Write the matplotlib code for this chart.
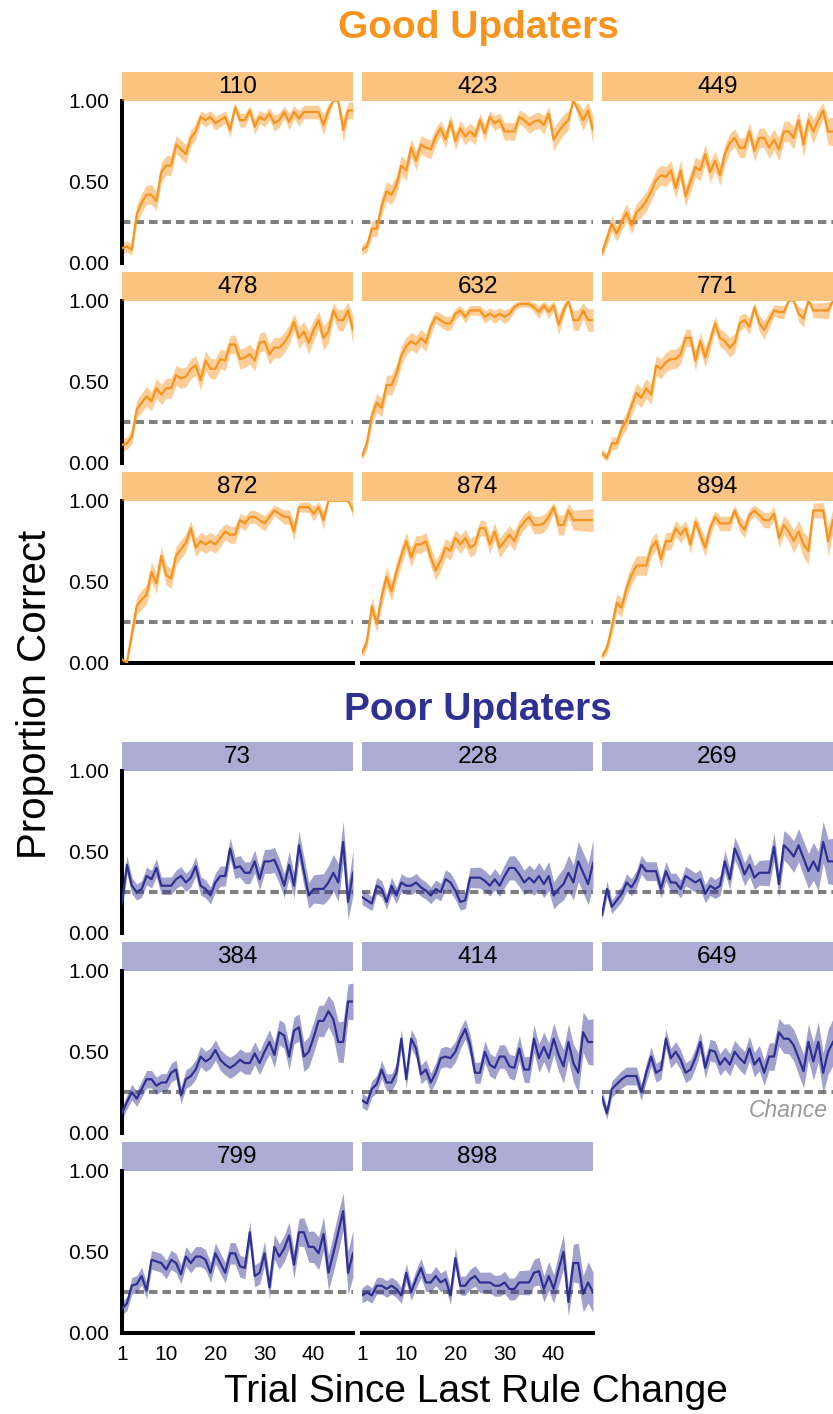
import numpy as np
import matplotlib
matplotlib.use("Agg")
import matplotlib.pyplot as plt

plt.rcParams['font.family'] = ['Liberation Sans', 'DejaVu Sans']

# trial index since the last rule change
trials = np.arange(1, 49)

# number of blocks contributing at each trial (used for the SE ribbon)
n_good = [70, 70, 69, 69, 68, 68, 67, 67, 66, 66, 66, 65, 65, 65, 64, 64, 64, 63, 63, 63,
          62, 62, 61, 61, 60, 59, 58, 57, 56, 55, 54, 52, 50, 48, 46, 44, 42, 40, 38, 36,
          34, 32, 30, 28, 26, 24, 22, 20]
n_poor = [80, 79, 78, 77, 76, 75, 74, 73, 72, 71, 70, 69, 68, 67, 66, 65, 64, 63, 62, 61,
          60, 59, 57, 56, 54, 53, 51, 50, 48, 46, 44, 42, 40, 38, 36, 34, 32, 30, 28, 26,
          24, 22, 20, 18, 16, 15, 13, 12]

# proportion correct per subject, good updaters
p110 = [0.09, 0.10, 0.08, 0.30, 0.37, 0.42, 0.42, 0.38, 0.56, 0.60, 0.60, 0.73, 0.70, 0.67, 0.77, 0.81,
        0.90, 0.88, 0.90, 0.86, 0.88, 0.90, 0.82, 0.96, 0.88, 0.88, 0.94, 0.84, 0.90, 0.88, 0.92, 0.86,
        0.88, 0.93, 0.87, 0.93, 0.89, 0.93, 0.93, 0.93, 0.93, 0.85, 0.94, 1.00, 1.00, 0.82, 0.94, 0.94]
p423 = [0.08, 0.10, 0.21, 0.21, 0.35, 0.44, 0.42, 0.48, 0.60, 0.57, 0.71, 0.63, 0.73, 0.71, 0.70, 0.78,
        0.83, 0.76, 0.87, 0.75, 0.83, 0.78, 0.81, 0.78, 0.88, 0.80, 0.90, 0.86, 0.88, 0.81, 0.81, 0.81,
        0.90, 0.88, 0.85, 0.87, 0.88, 0.85, 0.92, 0.76, 0.81, 0.85, 0.88, 1.00, 0.94, 0.88, 0.94, 0.82]
p449 = [0.06, 0.15, 0.24, 0.18, 0.25, 0.31, 0.23, 0.31, 0.34, 0.38, 0.44, 0.51, 0.54, 0.53, 0.57, 0.46,
        0.57, 0.41, 0.50, 0.59, 0.57, 0.67, 0.56, 0.63, 0.54, 0.67, 0.74, 0.77, 0.71, 0.71, 0.81, 0.69,
        0.77, 0.77, 0.71, 0.76, 0.70, 0.81, 0.81, 0.77, 0.88, 0.73, 0.88, 0.81, 0.88, 0.94, 0.81, 0.81]
p478 = [0.11, 0.12, 0.16, 0.33, 0.37, 0.41, 0.38, 0.46, 0.42, 0.46, 0.46, 0.54, 0.52, 0.53, 0.58, 0.60,
        0.51, 0.63, 0.58, 0.58, 0.64, 0.63, 0.73, 0.73, 0.64, 0.65, 0.67, 0.63, 0.74, 0.75, 0.67, 0.71,
        0.71, 0.74, 0.79, 0.87, 0.77, 0.81, 0.74, 0.82, 0.88, 0.77, 0.81, 0.94, 0.88, 0.88, 0.94, 0.82]
p632 = [0.04, 0.12, 0.29, 0.37, 0.34, 0.48, 0.48, 0.55, 0.66, 0.72, 0.75, 0.73, 0.77, 0.74, 0.84, 0.90,
        0.88, 0.86, 0.86, 0.92, 0.94, 0.90, 0.94, 0.94, 0.94, 0.90, 0.92, 0.90, 0.92, 0.90, 0.92, 0.96,
        0.98, 0.98, 0.98, 0.96, 0.93, 0.97, 0.93, 0.97, 0.85, 0.94, 1.00, 0.88, 0.88, 0.94, 0.88, 0.88]
p771 = [0.06, 0.03, 0.12, 0.12, 0.21, 0.26, 0.35, 0.43, 0.40, 0.46, 0.42, 0.60, 0.58, 0.62, 0.64, 0.64,
        0.67, 0.77, 0.77, 0.63, 0.75, 0.65, 0.75, 0.86, 0.77, 0.75, 0.71, 0.74, 0.86, 0.88, 0.84, 0.96,
        0.86, 0.82, 0.88, 0.94, 0.93, 0.93, 1.00, 1.00, 0.92, 0.89, 1.00, 0.94, 0.94, 0.94, 0.94, 1.00]
p872 = [0.02, 0.00, 0.18, 0.35, 0.39, 0.42, 0.56, 0.49, 0.66, 0.54, 0.52, 0.66, 0.70, 0.74, 0.83, 0.71,
        0.75, 0.73, 0.75, 0.73, 0.77, 0.81, 0.79, 0.79, 0.88, 0.86, 0.90, 0.90, 0.88, 0.86, 0.90, 0.94,
        0.92, 0.90, 0.90, 0.81, 0.96, 0.96, 0.96, 0.92, 0.96, 0.88, 1.00, 1.00, 1.00, 1.00, 1.00, 0.94]
p874 = [0.06, 0.13, 0.35, 0.24, 0.41, 0.53, 0.44, 0.56, 0.66, 0.75, 0.65, 0.73, 0.73, 0.75, 0.65, 0.57,
        0.63, 0.71, 0.69, 0.77, 0.73, 0.77, 0.71, 0.73, 0.83, 0.83, 0.73, 0.81, 0.71, 0.75, 0.79, 0.75,
        0.83, 0.87, 0.90, 0.85, 0.85, 0.86, 0.90, 0.96, 0.85, 0.85, 0.94, 0.88, 0.88, 0.88, 0.88, 0.88]
p894 = [0.04, 0.09, 0.22, 0.37, 0.34, 0.46, 0.54, 0.60, 0.60, 0.60, 0.71, 0.75, 0.64, 0.75, 0.75, 0.83,
        0.79, 0.83, 0.73, 0.87, 0.79, 0.71, 0.83, 0.90, 0.86, 0.86, 0.86, 0.94, 0.86, 0.82, 0.91, 0.94,
        0.91, 0.88, 0.88, 0.92, 0.77, 0.85, 0.81, 0.75, 0.81, 0.73, 0.69, 0.94, 0.94, 0.94, 0.75, 0.88]

# proportion correct per subject, poor updaters
p73 = [0.18, 0.42, 0.29, 0.25, 0.27, 0.35, 0.33, 0.40, 0.29, 0.29, 0.29, 0.33, 0.35, 0.31, 0.34, 0.41,
       0.29, 0.27, 0.23, 0.31, 0.35, 0.35, 0.52, 0.40, 0.41, 0.37, 0.37, 0.44, 0.33, 0.44, 0.44, 0.45,
       0.38, 0.29, 0.42, 0.29, 0.54, 0.38, 0.23, 0.27, 0.27, 0.27, 0.31, 0.37, 0.31, 0.56, 0.19, 0.37]
p228 = [0.22, 0.20, 0.18, 0.29, 0.27, 0.19, 0.29, 0.23, 0.31, 0.29, 0.29, 0.31, 0.28, 0.26, 0.23, 0.27,
        0.25, 0.33, 0.31, 0.26, 0.19, 0.20, 0.34, 0.34, 0.34, 0.32, 0.29, 0.33, 0.29, 0.35, 0.40, 0.40,
        0.36, 0.31, 0.34, 0.31, 0.35, 0.30, 0.35, 0.23, 0.27, 0.30, 0.37, 0.31, 0.44, 0.37, 0.30, 0.43]
p269 = [0.11, 0.27, 0.16, 0.20, 0.24, 0.31, 0.28, 0.33, 0.42, 0.38, 0.38, 0.38, 0.27, 0.38, 0.31, 0.31,
        0.27, 0.35, 0.33, 0.31, 0.33, 0.24, 0.29, 0.27, 0.29, 0.44, 0.33, 0.52, 0.45, 0.36, 0.42, 0.34,
        0.37, 0.37, 0.37, 0.53, 0.30, 0.54, 0.51, 0.47, 0.54, 0.46, 0.38, 0.44, 0.38, 0.56, 0.44, 0.44]
p384 = [0.12, 0.19, 0.25, 0.21, 0.27, 0.33, 0.33, 0.29, 0.31, 0.31, 0.37, 0.39, 0.23, 0.33, 0.35, 0.39,
        0.47, 0.44, 0.46, 0.51, 0.45, 0.42, 0.40, 0.42, 0.45, 0.43, 0.43, 0.49, 0.43, 0.50, 0.56, 0.48,
        0.62, 0.60, 0.47, 0.63, 0.65, 0.47, 0.50, 0.59, 0.69, 0.69, 0.75, 0.70, 0.56, 0.56, 0.81, 0.81]
p414 = [0.20, 0.18, 0.27, 0.30, 0.39, 0.31, 0.31, 0.37, 0.58, 0.33, 0.58, 0.52, 0.36, 0.39, 0.31, 0.37,
        0.46, 0.47, 0.46, 0.50, 0.58, 0.64, 0.54, 0.37, 0.37, 0.50, 0.42, 0.40, 0.47, 0.47, 0.41, 0.40,
        0.52, 0.39, 0.39, 0.58, 0.46, 0.53, 0.46, 0.58, 0.48, 0.41, 0.56, 0.43, 0.37, 0.62, 0.56, 0.56]
p649 = [0.22, 0.12, 0.27, 0.30, 0.33, 0.35, 0.35, 0.35, 0.25, 0.37, 0.47, 0.37, 0.39, 0.58, 0.46, 0.50,
        0.45, 0.37, 0.39, 0.46, 0.56, 0.40, 0.51, 0.50, 0.42, 0.46, 0.42, 0.50, 0.46, 0.43, 0.52, 0.42,
        0.46, 0.37, 0.47, 0.47, 0.62, 0.58, 0.58, 0.54, 0.46, 0.38, 0.56, 0.44, 0.56, 0.37, 0.50, 0.56]
p799 = [0.15, 0.18, 0.29, 0.30, 0.35, 0.26, 0.45, 0.44, 0.43, 0.39, 0.45, 0.43, 0.36, 0.47, 0.43, 0.47,
        0.47, 0.45, 0.37, 0.49, 0.43, 0.37, 0.49, 0.49, 0.41, 0.40, 0.62, 0.35, 0.37, 0.49, 0.28, 0.53,
        0.47, 0.52, 0.60, 0.42, 0.62, 0.62, 0.53, 0.53, 0.49, 0.61, 0.37, 0.49, 0.62, 0.75, 0.37, 0.49]
p898 = [0.23, 0.25, 0.23, 0.29, 0.29, 0.27, 0.29, 0.27, 0.23, 0.37, 0.25, 0.33, 0.40, 0.31, 0.31, 0.35,
        0.31, 0.33, 0.23, 0.46, 0.29, 0.29, 0.33, 0.35, 0.31, 0.31, 0.31, 0.29, 0.29, 0.31, 0.27, 0.27,
        0.31, 0.31, 0.31, 0.37, 0.38, 0.27, 0.35, 0.27, 0.39, 0.50, 0.19, 0.43, 0.43, 0.24, 0.31, 0.25]

good_ids = ['110', '423', '449', '478', '632', '771', '872', '874', '894']
good_vals = [p110, p423, p449, p478, p632, p771, p872, p874, p894]
poor_ids = ['73', '228', '269', '384', '414', '649', '799', '898']
poor_vals = [p73, p228, p269, p384, p414, p649, p799, p898]

chance = 0.25
orange = '#F7941D'
navy = '#2E3192'

W, H = 833, 1414
fig = plt.figure(figsize=(W / 100, H / 100), dpi=100)


def px_axes(left, top, width, height):
    return fig.add_axes([left / W, 1 - (top + height) / H, width / W, height / H])


col_left = [122, 362, 602]
panel_w, panel_h, strip_h = 231, 162, 28.7


def draw_panel(idx, n_panels, top0, sid, vals, counts, color, strip_alpha, xlabels):
    row, col = divmod(idx, 3)
    left = col_left[col]
    top = top0 + row * 200
    last_row = row == (n_panels - 1) // 3

    ax = px_axes(left, top, panel_w, panel_h)
    p = np.array(vals)
    se = np.sqrt(p * (1 - p) / np.array(counts))
    ax.axhline(chance, color='#808080', lw=2.9, ls=(0, (2.1, 1.25)), zorder=1)
    ax.fill_between(trials, p - se, p + se, color=color, alpha=0.45, lw=0, zorder=2)
    ax.plot(trials, p, color=color, lw=1.6, zorder=3)
    ax.set_xlim(1, 48)
    ax.set_ylim(0, 1)
    for s in ax.spines.values():
        s.set_visible(False)
        s.set_linewidth(2.9)
    ax.tick_params(length=0, labelsize=15, pad=9)
    ax.set_yticks([0, 0.5, 1.0])
    ax.set_xticks([1, 10, 20, 30, 40])
    if col == 0:
        ax.spines['left'].set_visible(True)
        ax.set_yticklabels(['0.00', '0.50', '1.00'])
    else:
        ax.tick_params(labelleft=False)
    if last_row:
        ax.spines['bottom'].set_visible(True)
    if not (last_row and xlabels):
        ax.tick_params(labelbottom=False)

    st = px_axes(left, top - strip_h, panel_w, strip_h)
    st.set_facecolor(color)
    st.patch.set_alpha(strip_alpha)
    st.set_xticks([])
    st.set_yticks([])
    for s in st.spines.values():
        s.set_visible(False)
    st.text(0.5, 0.48, sid, transform=st.transAxes, ha='center', va='center', fontsize=17.5)
    return ax


for i, (sid, vals) in enumerate(zip(good_ids, good_vals)):
    draw_panel(i, len(good_ids), 100.7, sid, vals, n_good, orange, 0.56, False)

poor_axes = []
for i, (sid, vals) in enumerate(zip(poor_ids, poor_vals)):
    poor_axes.append(draw_panel(i, len(poor_ids), 770.7, sid, vals, n_poor, navy, 0.4, True))

# label for the dashed reference line
poor_axes[5].text(47, 0.135, 'Chance', ha='right', va='center', fontsize=16.5,
                  style='italic', color='#999999')

fig.text(478 / W, 1 - 28 / H, 'Good Updaters', ha='center', va='center',
         fontsize=28, fontweight='bold', color=orange)
fig.text(478 / W, 1 - 710 / H, 'Poor Updaters', ha='center', va='center',
         fontsize=28, fontweight='bold', color=navy)
fig.text(35 / W, 1 - 694 / H, 'Proportion Correct', ha='center', va='center',
         rotation=90, fontsize=29)
fig.text(476 / W, 1 - 1392 / H, 'Trial Since Last Rule Change', ha='center', va='center',
         fontsize=28)

fig.savefig('out.png', dpi=100)
